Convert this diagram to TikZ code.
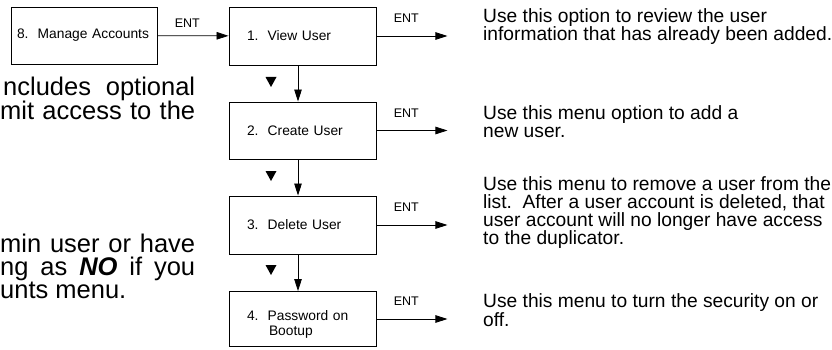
\documentclass[tikz,border=0pt]{standalone}
\usepackage{fontspec}
\setmainfont{Liberation Sans}
\usetikzlibrary{arrows.meta}

\begin{document}
\begin{tikzpicture}[x=1pt, y=-1pt, >={Triangle[length=12pt,width=7.5pt]},
  menubox/.style={draw, line width=0.9pt, rectangle, minimum height=58pt, text width=111pt, inner xsep=18pt, align=left, font=\fontsize{13.8}{15}\selectfont},
  entlabel/.style={above=#1, pos=0.42, inner sep=0pt, font=\fontsize{12.5}{14}\selectfont},
  entlabel/.default=13pt,
  note/.style={anchor=base west, align=left, inner sep=0pt, font=\fontsize{19.2}{18.1}\selectfont},
  bodyline/.style={anchor=base west, inner sep=0pt, font=\fontsize{25.5}{27}\selectfont}]
\useasboundingbox (0,0) rectangle (832,350);
\node [menubox, text width=134pt, inner xsep=6pt, minimum height=57pt] (acct) at (84,35.5) {8.\ \ Manage Accounts};
\node [menubox] (view) at (302.5,36) {1.\ \ View User};
\node [menubox, minimum height=57pt] (create) at (302.5,130.5) {2.\ \ Create User};
\node [menubox] (delete) at (302.5,225) {3.\ \ Delete User};
\node [menubox, minimum height=55pt] (bootup) at (302.5,319) {\rule{0pt}{21pt}4.\ \ Password on\\\hspace*{22pt}Bootup};
\draw [->, line width=0.8pt] (acct) -- node [entlabel=8pt] {ENT} (view);
\foreach \a/\b in {view/create, create/delete, delete/bootup}
  \draw [->, line width=0.8pt] ([xshift=-4.5pt]\a.south) -- ([xshift=-4.5pt]\b.north);
\foreach \y in {77,171,265}
  \fill (265.5,\y) -- (276.5,\y) -- (271,\y+10) -- cycle;
\foreach \n in {view,create,delete,bootup} {
  \coordinate (\n-out) at ([xshift=71pt]\n.east);
  \draw [->, line width=0.8pt] (\n.east) -- node [entlabel] {ENT} (\n-out);
}
\node [note] (viewnote) at (483,40.5) {Use this option to review the user\\information that has already been added.};
\node [note] (createnote) at (483,137.5) {Use this menu option to add a\\new user.};
\node [note] (deletenote) at (483,244.5) {Use this menu to remove a user from the\\list.\ \ After a user account is deleted, that\\user account will no longer have access\\to the duplicator.};
\node [note] (bootupnote) at (483,326) {Use this menu to turn the security on or\\off.};
\node [bodyline] (inc) at (3,96) {\makebox[192pt][s]{ncludes optional}};
\node [bodyline] (lim) at (0,120) {\makebox[195pt][s]{mit access to the}};
\node [bodyline] (adm) at (0,252) {\makebox[195pt][s]{min user or have}};
\node [bodyline] (set) at (0,275) {\makebox[195pt][s]{ng as \textbf{\textit{NO}} if you}};
\node [bodyline] (acc) at (0,298) {unts menu.};
\end{tikzpicture}
\end{document}
